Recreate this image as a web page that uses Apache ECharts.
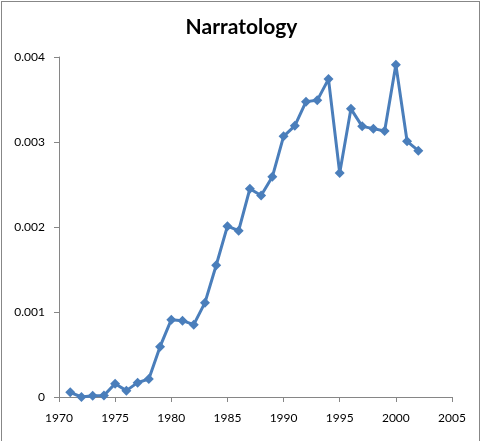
<!DOCTYPE html>
<html lang="en">
<head>
    <meta charset="UTF-8">
    <title>Narratology</title>
    <script src="https://cdn.jsdelivr.net/npm/echarts@6/dist/echarts.min.js"></script>
    <style>
        html, body { margin: 0; padding: 0; background: #fff; }
        #frame { position: absolute; left: 1px; top: 1px; width: 479px; height: 460px;
                 border: 1.5px solid #878787; box-sizing: border-box; pointer-events: none; }
    </style>
</head>
<body>
    <div id="main" style="width: 483px; height: 441px;"></div>
    <div id="frame"></div>

    <script>
        // years and relative frequency
        var years = [1971, 1972, 1973, 1974, 1975, 1976, 1977, 1978, 1979, 1980,
                     1981, 1982, 1983, 1984, 1985, 1986, 1987, 1988, 1989, 1990,
                     1991, 1992, 1993, 1994, 1995, 1996, 1997, 1998, 1999, 2000,
                     2001, 2002];
        var freq = [0.000055, 0.0, 0.000016, 0.000018, 0.000157, 0.000075, 0.000169, 0.000212, 0.000592, 0.00091,
                    0.000898, 0.000851, 0.00111, 0.00155, 0.00201, 0.001957, 0.00245, 0.00237, 0.00259, 0.003067,
                    0.00319, 0.003475, 0.00349, 0.00374, 0.002635, 0.00339, 0.003184, 0.003157, 0.00313, 0.00391,
                    0.003008, 0.002898];

        var chart = echarts.init(document.getElementById('main'));
        var axisGrey = '#868686';
        var font = 'Lato, "Open Sans", sans-serif';

        var option = {
            animation: false,
            title: {
                text: 'Narratology',
                left: 'center',
                top: 12,
                textStyle: { fontFamily: font, fontSize: 21, fontWeight: 'bold', color: '#000' }
            },
            grid: { left: 59, right: 31, top: 57, bottom: 44 },
            xAxis: {
                type: 'value',
                min: 1970,
                max: 2005,
                interval: 5,
                axisLine: { lineStyle: { color: axisGrey, width: 1 } },
                axisTick: { show: true, length: 5, lineStyle: { color: axisGrey } },
                splitLine: { show: false },
                axisLabel: {
                    color: '#000', fontFamily: font, fontSize: 12, margin: 15,
                    formatter: function (v) { return String(v); }
                }
            },
            yAxis: {
                type: 'value',
                min: 0,
                max: 0.004,
                interval: 0.001,
                axisLine: { show: true, lineStyle: { color: axisGrey, width: 1 } },
                axisTick: { show: true, length: 5, lineStyle: { color: axisGrey } },
                splitLine: { show: false },
                axisLabel: {
                    color: '#000', fontFamily: font, fontSize: 12, margin: 14,
                    formatter: function (v) { return v === 0 ? '0' : v.toFixed(3); }
                }
            },
            series: [{
                type: 'line',
                data: years.map((y, i) => [y, freq[i]]),
                symbol: 'diamond',
                symbolSize: 10,
                lineStyle: { color: '#4a7ebb', width: 3 },
                itemStyle: { color: '#4a7ebb' }
            }]
        };

        chart.setOption(option);
    </script>
</body>
</html>
